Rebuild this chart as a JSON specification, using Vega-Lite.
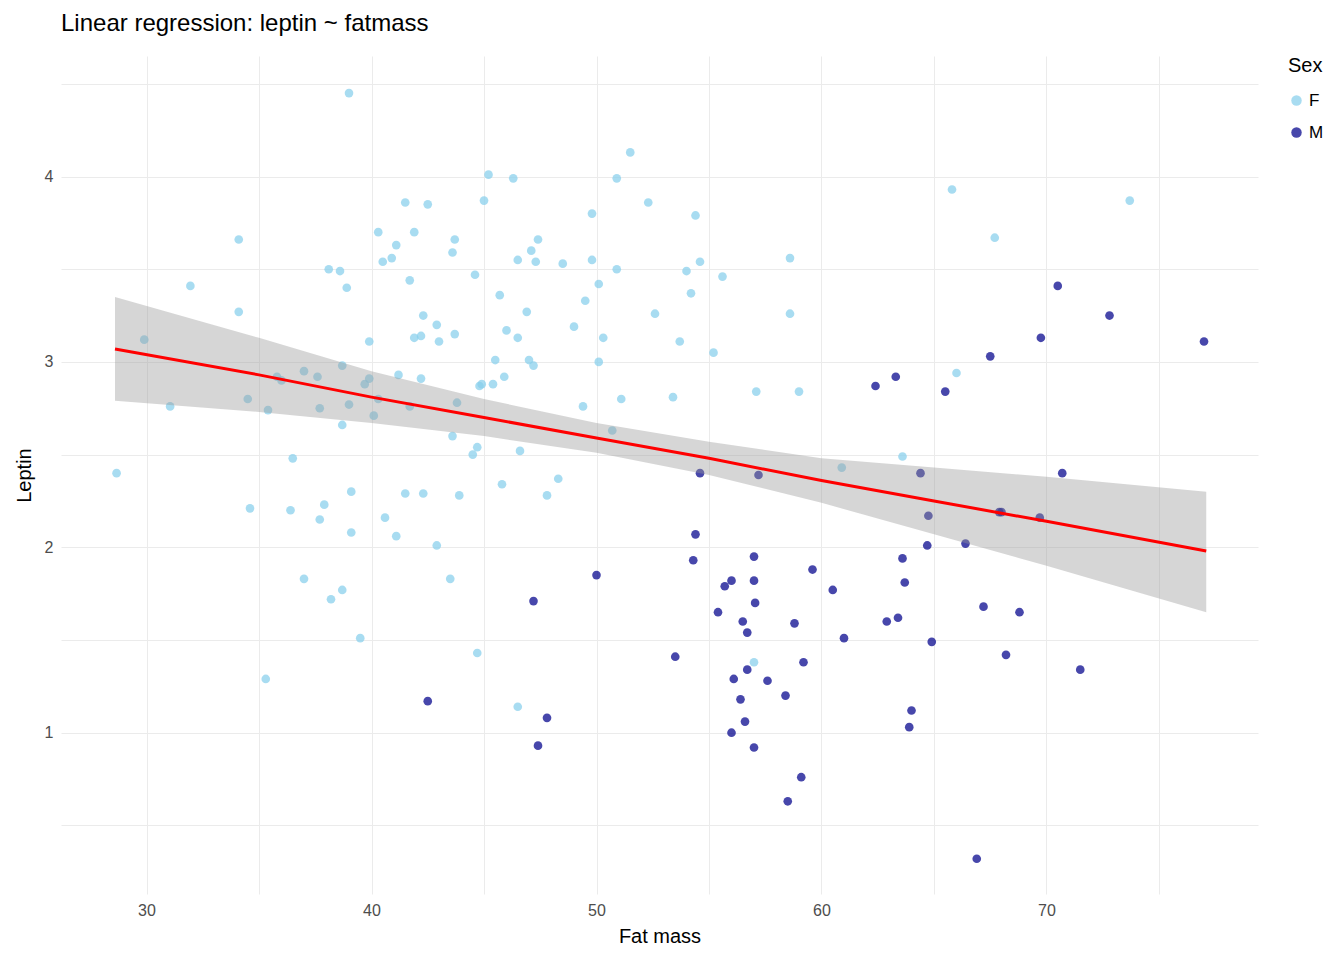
{
"$schema":"https://vega.github.io/schema/vega-lite/v6.json",
"width":1344,"height":960,
"autosize":{"type":"fit","contains":"padding"},
"padding":{"left":14,"right":20,"top":12,"bottom":14},
"background":"white",
"config":{"font":"Liberation Sans","view":{"stroke":null}},
"title":{"text":"Linear regression: leptin ~ fatmass","anchor":"start","frame":"group","fontSize":24,"fontWeight":"normal","offset":20,"font":"Liberation Sans"},
"datasets":{
"pts":[
{"x":28.67,"y":2.40,"sex":"F"},{"x":29.9,"y":3.12,"sex":"F"},{"x":31.05,"y":2.76,"sex":"F"},{"x":31.95,"y":3.41,"sex":"F"},{"x":34.1,"y":3.66,"sex":"F"},{"x":34.1,"y":3.27,"sex":"F"},{"x":34.5,"y":2.80,"sex":"F"},{"x":34.6,"y":2.21,"sex":"F"},{"x":35.3,"y":1.29,"sex":"F"},{"x":35.4,"y":2.74,"sex":"F"},{"x":35.8,"y":2.92,"sex":"F"},{"x":36.0,"y":2.90,"sex":"F"},{"x":36.4,"y":2.20,"sex":"F"},{"x":36.5,"y":2.48,"sex":"F"},{"x":37.0,"y":2.95,"sex":"F"},{"x":37.0,"y":1.83,"sex":"F"},{"x":37.6,"y":2.92,"sex":"F"},{"x":37.7,"y":2.75,"sex":"F"},{"x":37.7,"y":2.15,"sex":"F"},{"x":37.9,"y":2.23,"sex":"F"},{"x":38.1,"y":3.50,"sex":"F"},{"x":38.2,"y":1.72,"sex":"F"},{"x":38.6,"y":3.49,"sex":"F"},{"x":38.7,"y":1.77,"sex":"F"},{"x":38.7,"y":2.66,"sex":"F"},{"x":38.7,"y":2.98,"sex":"F"},{"x":38.9,"y":3.40,"sex":"F"},{"x":39.0,"y":4.45,"sex":"F"},{"x":39.0,"y":2.77,"sex":"F"},{"x":39.1,"y":2.30,"sex":"F"},{"x":39.1,"y":2.08,"sex":"F"},{"x":39.5,"y":1.51,"sex":"F"},{"x":39.7,"y":2.88,"sex":"F"},{"x":39.9,"y":2.91,"sex":"F"},{"x":39.9,"y":3.11,"sex":"F"},{"x":40.1,"y":2.71,"sex":"F"},{"x":40.3,"y":2.80,"sex":"F"},{"x":40.3,"y":3.70,"sex":"F"},{"x":40.5,"y":3.54,"sex":"F"},{"x":40.6,"y":2.16,"sex":"F"},{"x":40.9,"y":3.56,"sex":"F"},{"x":41.1,"y":2.06,"sex":"F"},{"x":41.1,"y":3.63,"sex":"F"},{"x":41.2,"y":2.93,"sex":"F"},{"x":41.5,"y":2.29,"sex":"F"},{"x":41.5,"y":3.86,"sex":"F"},{"x":41.7,"y":3.44,"sex":"F"},{"x":41.7,"y":2.76,"sex":"F"},{"x":41.9,"y":3.13,"sex":"F"},{"x":41.9,"y":3.70,"sex":"F"},{"x":42.2,"y":3.14,"sex":"F"},{"x":42.2,"y":2.91,"sex":"F"},{"x":42.3,"y":3.25,"sex":"F"},{"x":42.3,"y":2.29,"sex":"F"},{"x":42.5,"y":3.85,"sex":"F"},{"x":42.9,"y":3.20,"sex":"F"},{"x":42.9,"y":2.01,"sex":"F"},{"x":43.0,"y":3.11,"sex":"F"},{"x":43.5,"y":1.83,"sex":"F"},{"x":43.6,"y":2.60,"sex":"F"},{"x":43.6,"y":3.59,"sex":"F"},{"x":43.7,"y":3.66,"sex":"F"},{"x":43.7,"y":3.15,"sex":"F"},{"x":43.8,"y":2.78,"sex":"F"},{"x":43.9,"y":2.28,"sex":"F"},{"x":44.5,"y":2.50,"sex":"F"},{"x":44.6,"y":3.47,"sex":"F"},{"x":44.7,"y":2.54,"sex":"F"},{"x":44.7,"y":1.43,"sex":"F"},{"x":44.8,"y":2.87,"sex":"F"},{"x":44.9,"y":2.88,"sex":"F"},{"x":45.0,"y":3.87,"sex":"F"},{"x":45.2,"y":4.01,"sex":"F"},{"x":45.4,"y":2.88,"sex":"F"},{"x":45.5,"y":3.01,"sex":"F"},{"x":45.7,"y":3.36,"sex":"F"},{"x":45.8,"y":2.34,"sex":"F"},{"x":45.9,"y":2.92,"sex":"F"},{"x":46.0,"y":3.17,"sex":"F"},{"x":46.3,"y":3.99,"sex":"F"},{"x":46.5,"y":3.13,"sex":"F"},{"x":46.5,"y":3.55,"sex":"F"},{"x":46.5,"y":1.14,"sex":"F"},{"x":46.6,"y":2.52,"sex":"F"},{"x":46.9,"y":3.27,"sex":"F"},{"x":47.0,"y":3.01,"sex":"F"},{"x":47.1,"y":3.60,"sex":"F"},{"x":47.2,"y":2.98,"sex":"F"},{"x":47.3,"y":3.54,"sex":"F"},{"x":47.4,"y":3.66,"sex":"F"},{"x":47.8,"y":2.28,"sex":"F"},{"x":48.3,"y":2.37,"sex":"F"},{"x":48.5,"y":3.53,"sex":"F"},{"x":49.0,"y":3.19,"sex":"F"},{"x":49.4,"y":2.76,"sex":"F"},{"x":49.5,"y":3.33,"sex":"F"},{"x":49.8,"y":3.80,"sex":"F"},{"x":49.8,"y":3.55,"sex":"F"},{"x":50.1,"y":3.42,"sex":"F"},{"x":50.1,"y":3.00,"sex":"F"},{"x":50.3,"y":3.13,"sex":"F"},{"x":50.7,"y":2.63,"sex":"F"},{"x":50.9,"y":3.50,"sex":"F"},{"x":50.9,"y":3.99,"sex":"F"},{"x":51.1,"y":2.80,"sex":"F"},{"x":51.5,"y":4.13,"sex":"F"},{"x":52.3,"y":3.86,"sex":"F"},{"x":52.6,"y":3.26,"sex":"F"},{"x":53.4,"y":2.81,"sex":"F"},{"x":53.7,"y":3.11,"sex":"F"},{"x":54.0,"y":3.49,"sex":"F"},{"x":54.2,"y":3.37,"sex":"F"},{"x":54.4,"y":3.79,"sex":"F"},{"x":54.6,"y":3.54,"sex":"F"},{"x":55.2,"y":3.05,"sex":"F"},{"x":55.6,"y":3.46,"sex":"F"},{"x":57.0,"y":1.38,"sex":"F"},{"x":57.1,"y":2.84,"sex":"F"},{"x":58.6,"y":3.56,"sex":"F"},{"x":58.6,"y":3.26,"sex":"F"},{"x":59.0,"y":2.84,"sex":"F"},{"x":60.9,"y":2.43,"sex":"F"},{"x":63.6,"y":2.49,"sex":"F"},{"x":65.8,"y":3.93,"sex":"F"},{"x":66.0,"y":2.94,"sex":"F"},{"x":67.7,"y":3.67,"sex":"F"},{"x":73.7,"y":3.87,"sex":"F"},
{"x":42.5,"y":1.17,"sex":"M"},{"x":47.2,"y":1.71,"sex":"M"},{"x":47.4,"y":0.93,"sex":"M"},{"x":47.8,"y":1.08,"sex":"M"},{"x":50.0,"y":1.85,"sex":"M"},{"x":53.5,"y":1.41,"sex":"M"},{"x":54.6,"y":2.40,"sex":"M"},{"x":54.4,"y":2.07,"sex":"M"},{"x":54.3,"y":1.93,"sex":"M"},{"x":55.4,"y":1.65,"sex":"M"},{"x":55.7,"y":1.79,"sex":"M"},{"x":56.0,"y":1.82,"sex":"M"},{"x":56.1,"y":1.29,"sex":"M"},{"x":56.0,"y":1.00,"sex":"M"},{"x":56.4,"y":1.18,"sex":"M"},{"x":56.5,"y":1.60,"sex":"M"},{"x":56.6,"y":1.06,"sex":"M"},{"x":56.7,"y":1.54,"sex":"M"},{"x":56.7,"y":1.34,"sex":"M"},{"x":57.0,"y":1.95,"sex":"M"},{"x":57.0,"y":1.82,"sex":"M"},{"x":57.05,"y":1.70,"sex":"M"},{"x":57.0,"y":0.92,"sex":"M"},{"x":57.2,"y":2.39,"sex":"M"},{"x":57.6,"y":1.28,"sex":"M"},{"x":58.4,"y":1.20,"sex":"M"},{"x":58.5,"y":0.63,"sex":"M"},{"x":58.8,"y":1.59,"sex":"M"},{"x":59.1,"y":0.76,"sex":"M"},{"x":59.2,"y":1.38,"sex":"M"},{"x":59.6,"y":1.88,"sex":"M"},{"x":60.5,"y":1.77,"sex":"M"},{"x":61.0,"y":1.51,"sex":"M"},{"x":62.4,"y":2.87,"sex":"M"},{"x":62.9,"y":1.60,"sex":"M"},{"x":63.3,"y":2.92,"sex":"M"},{"x":63.4,"y":1.62,"sex":"M"},{"x":63.6,"y":1.94,"sex":"M"},{"x":63.7,"y":1.81,"sex":"M"},{"x":63.9,"y":1.03,"sex":"M"},{"x":64.0,"y":1.12,"sex":"M"},{"x":64.4,"y":2.40,"sex":"M"},{"x":64.7,"y":2.01,"sex":"M"},{"x":64.75,"y":2.17,"sex":"M"},{"x":64.9,"y":1.49,"sex":"M"},{"x":65.5,"y":2.84,"sex":"M"},{"x":66.4,"y":2.02,"sex":"M"},{"x":66.9,"y":0.32,"sex":"M"},{"x":67.2,"y":1.68,"sex":"M"},{"x":67.5,"y":3.03,"sex":"M"},{"x":67.9,"y":2.19,"sex":"M"},{"x":68.0,"y":2.19,"sex":"M"},{"x":68.2,"y":1.42,"sex":"M"},{"x":68.8,"y":1.65,"sex":"M"},{"x":69.7,"y":2.16,"sex":"M"},{"x":69.75,"y":3.13,"sex":"M"},{"x":70.5,"y":3.41,"sex":"M"},{"x":70.7,"y":2.40,"sex":"M"},{"x":71.5,"y":1.34,"sex":"M"},{"x":72.8,"y":3.25,"sex":"M"},{"x":77.0,"y":3.11,"sex":"M"}],
"fit":[
{"x":28.6,"fit":3.07,"lo":2.79,"hi":3.35},{"x":35,"fit":2.93,"lo":2.73,"hi":3.13},{"x":40,"fit":2.81,"lo":2.67,"hi":2.95},{"x":45,"fit":2.70,"lo":2.60,"hi":2.80},{"x":50,"fit":2.59,"lo":2.51,"hi":2.67},{"x":55,"fit":2.48,"lo":2.39,"hi":2.57},{"x":60,"fit":2.36,"lo":2.24,"hi":2.48},{"x":65,"fit":2.25,"lo":2.07,"hi":2.43},{"x":70,"fit":2.14,"lo":1.90,"hi":2.38},{"x":77.1,"fit":1.98,"lo":1.65,"hi":2.30}]
},
"layer":[
{"data":{"name":"pts"},"mark":{"type":"circle","size":75,"opacity":0.72},
"encoding":{
"x":{"field":"x","type":"quantitative","title":"Fat mass","scale":{"domain":[26.2,79.4],"nice":false,"zero":false},
"axis":{"values":[25,30,35,40,45,50,55,60,65,70,75],"labelExpr":"datum.value%10==0 ? format(datum.value,'d') : ''","domain":false,"ticks":false,"gridColor":"#ebebeb","labelColor":"#4d4d4d","labelFontSize":16,"titleFontSize":20,"titleFontWeight":"normal","titleColor":"black","labelPadding":8,"titlePadding":8}},
"y":{"field":"y","type":"quantitative","title":"Leptin","scale":{"domain":[0.13,4.65],"nice":false,"zero":false},
"axis":{"values":[0.5,1,1.5,2,2.5,3,3.5,4,4.5],"labelExpr":"datum.value%1==0 ? format(datum.value,'d') : ''","domain":false,"ticks":false,"gridColor":"#ebebeb","labelColor":"#4d4d4d","labelFontSize":16,"titleFontSize":20,"titleFontWeight":"normal","titleColor":"black","labelPadding":8,"titlePadding":10}},
"color":{"field":"sex","type":"nominal","scale":{"domain":["F","M"],"range":["#87CEEB","#00008B"]},
"legend":{"title":"Sex","titleFontSize":20,"titleFontWeight":"normal","labelFontSize":17,"symbolSize":110,"rowPadding":14,"titlePadding":16,"offset":30,"orient":"right"}}}},
{"data":{"name":"fit"},"mark":{"type":"area","color":"#999999","opacity":0.4},
"encoding":{"x":{"field":"x","type":"quantitative"},"y":{"field":"lo","type":"quantitative"},"y2":{"field":"hi"}}},
{"data":{"name":"fit"},"mark":{"type":"line","color":"red","strokeWidth":3},
"encoding":{"x":{"field":"x","type":"quantitative"},"y":{"field":"fit","type":"quantitative"}}}
]
}
